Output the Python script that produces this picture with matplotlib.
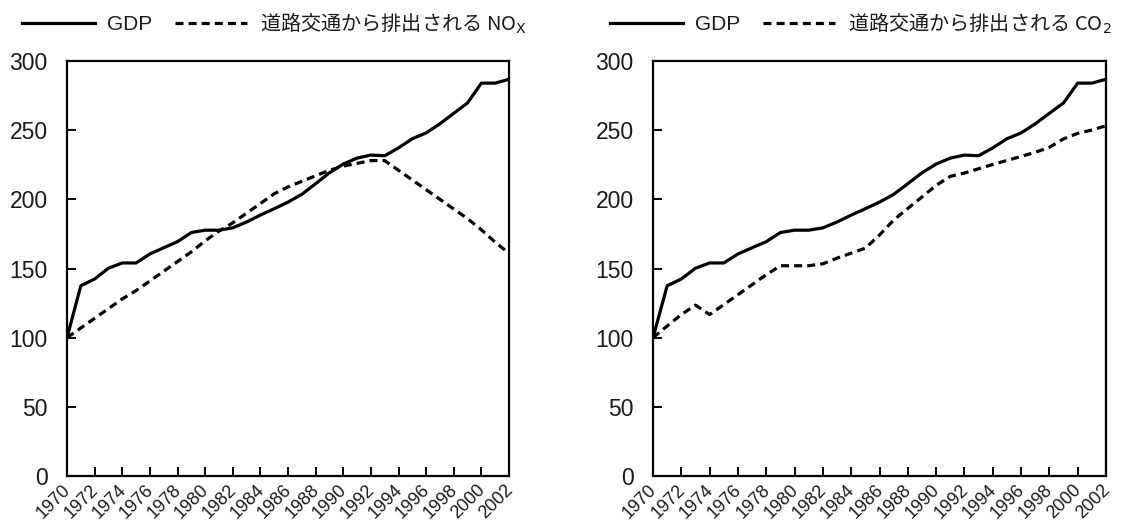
import matplotlib
matplotlib.use("Agg")
import matplotlib.pyplot as plt
import matplotlib.transforms as mtransforms
from matplotlib import font_manager

# ─── Data (index, 1970 = 100) ────────────────────────────────────────────────
years = list(range(1970, 2003))
tick_years = list(range(1970, 2003, 2))
y_ticks = [0, 50, 100, 150, 200, 250, 300]

gdp = [100, 137.5, 142.4, 150.2, 154.0, 154.0, 160.5, 165.0, 169.4, 176.0,
       177.7, 177.7, 179.4, 183.6, 188.6, 193.2, 198.0, 203.6, 211.3, 219.2,
       225.5, 229.8, 232.0, 231.5, 237.2, 243.8, 248.0, 254.6, 262.2, 269.7,
       284.0, 284.0, 286.8]

nox_road = [100, 107, 114, 121, 128, 134, 141, 148, 155, 162,
            170, 177, 183, 190, 197, 204, 209, 213, 217, 221,
            224, 226, 228, 228, 221, 214, 207, 200, 193, 186,
            178, 169, 161]

co2_road = [100, 108.4, 116.7, 123.5, 116.7, 123.9, 131.1, 138.3, 145.5, 152.0,
            152.0, 152.0, 153.4, 157.5, 161.1, 164.7, 174.2, 185.0, 193.4, 201.7,
            210.1, 216.6, 219.0, 222.1, 225.2, 228.1, 231.0, 234.0, 237.6, 243.7,
            247.7, 250.1, 253.2]

gdp_label = "GDP"
nox_label = "道路交通から排出される NO$_\\mathrm{X}$"
co2_label = "道路交通から排出される CO$_\\mathrm{2}$"

# ─── Fonts ───────────────────────────────────────────────────────────────────
names = {f.name for f in font_manager.fontManager.ttflist}
LATIN = "Liberation Sans" if "Liberation Sans" in names else "DejaVu Sans"
CJK = "Noto Sans CJK JP"
INK = "#1a1a1a"

W, H = 1126, 523
fig = plt.figure(figsize=(W / 100, H / 100), dpi=100)

# axes boxes in pixels: (left, top, right, bottom)
boxes = [(67, 61, 509, 476), (653, 61, 1106, 476)]
series = [nox_road, co2_road]
labels = [nox_label, co2_label]
legend_pos = [(22, 23), (610, 23)]

for (l, t, r, b), emis, lab, (lx, ly) in zip(boxes, series, labels, legend_pos):
    ax = fig.add_axes([l / W, (H - b) / H, (r - l) / W, (b - t) / H])
    ax.plot(years, gdp, color="black", linewidth=2.3, solid_joinstyle="round",
            label=gdp_label, zorder=3)
    ax.plot(years, emis, color="black", linewidth=2.3,
            linestyle=(0, (2.5, 1.6)), label=lab, zorder=2)

    ax.set_xlim(1970, 2002)
    ax.set_ylim(0, 300)
    ax.set_xticks(tick_years)
    ax.set_xticklabels([str(y) for y in tick_years], rotation=45,
                       ha="right", va="top", family=LATIN, fontsize=13,
                       color=INK)
    ax.set_yticks(y_ticks)
    ax.set_yticklabels([str(v) for v in y_ticks], family=LATIN, fontsize=16.5,
                       color=INK)
    ax.tick_params(axis="both", direction="in", length=6.5, width=1.4,
                   color="black")
    ax.tick_params(axis="y", pad=14)
    ax.tick_params(axis="x", pad=4)
    for sp in ax.spines.values():
        sp.set_linewidth(1.6)

    # nudge x labels slightly right, as in the print
    offset = mtransforms.ScaledTranslation(7 / 100, 0, fig.dpi_scale_trans)
    for lbl in ax.get_xticklabels():
        lbl.set_transform(lbl.get_transform() + offset)

    leg = ax.legend(loc="center left", bbox_to_anchor=(lx / W, 1 - ly / H),
                    bbox_transform=fig.transFigure, ncol=2, frameon=False,
                    borderpad=0, borderaxespad=0, handlelength=3.6,
                    handletextpad=0.6, columnspacing=1.15,
                    prop={"family": CJK, "size": 14.5})
    for txt in leg.get_texts():
        txt.set_color(INK)
    leg.get_texts()[0].set_fontfamily(LATIN)
    leg.get_texts()[0].set_fontsize(15)

fig.savefig("out.png", dpi=100, facecolor="white")
